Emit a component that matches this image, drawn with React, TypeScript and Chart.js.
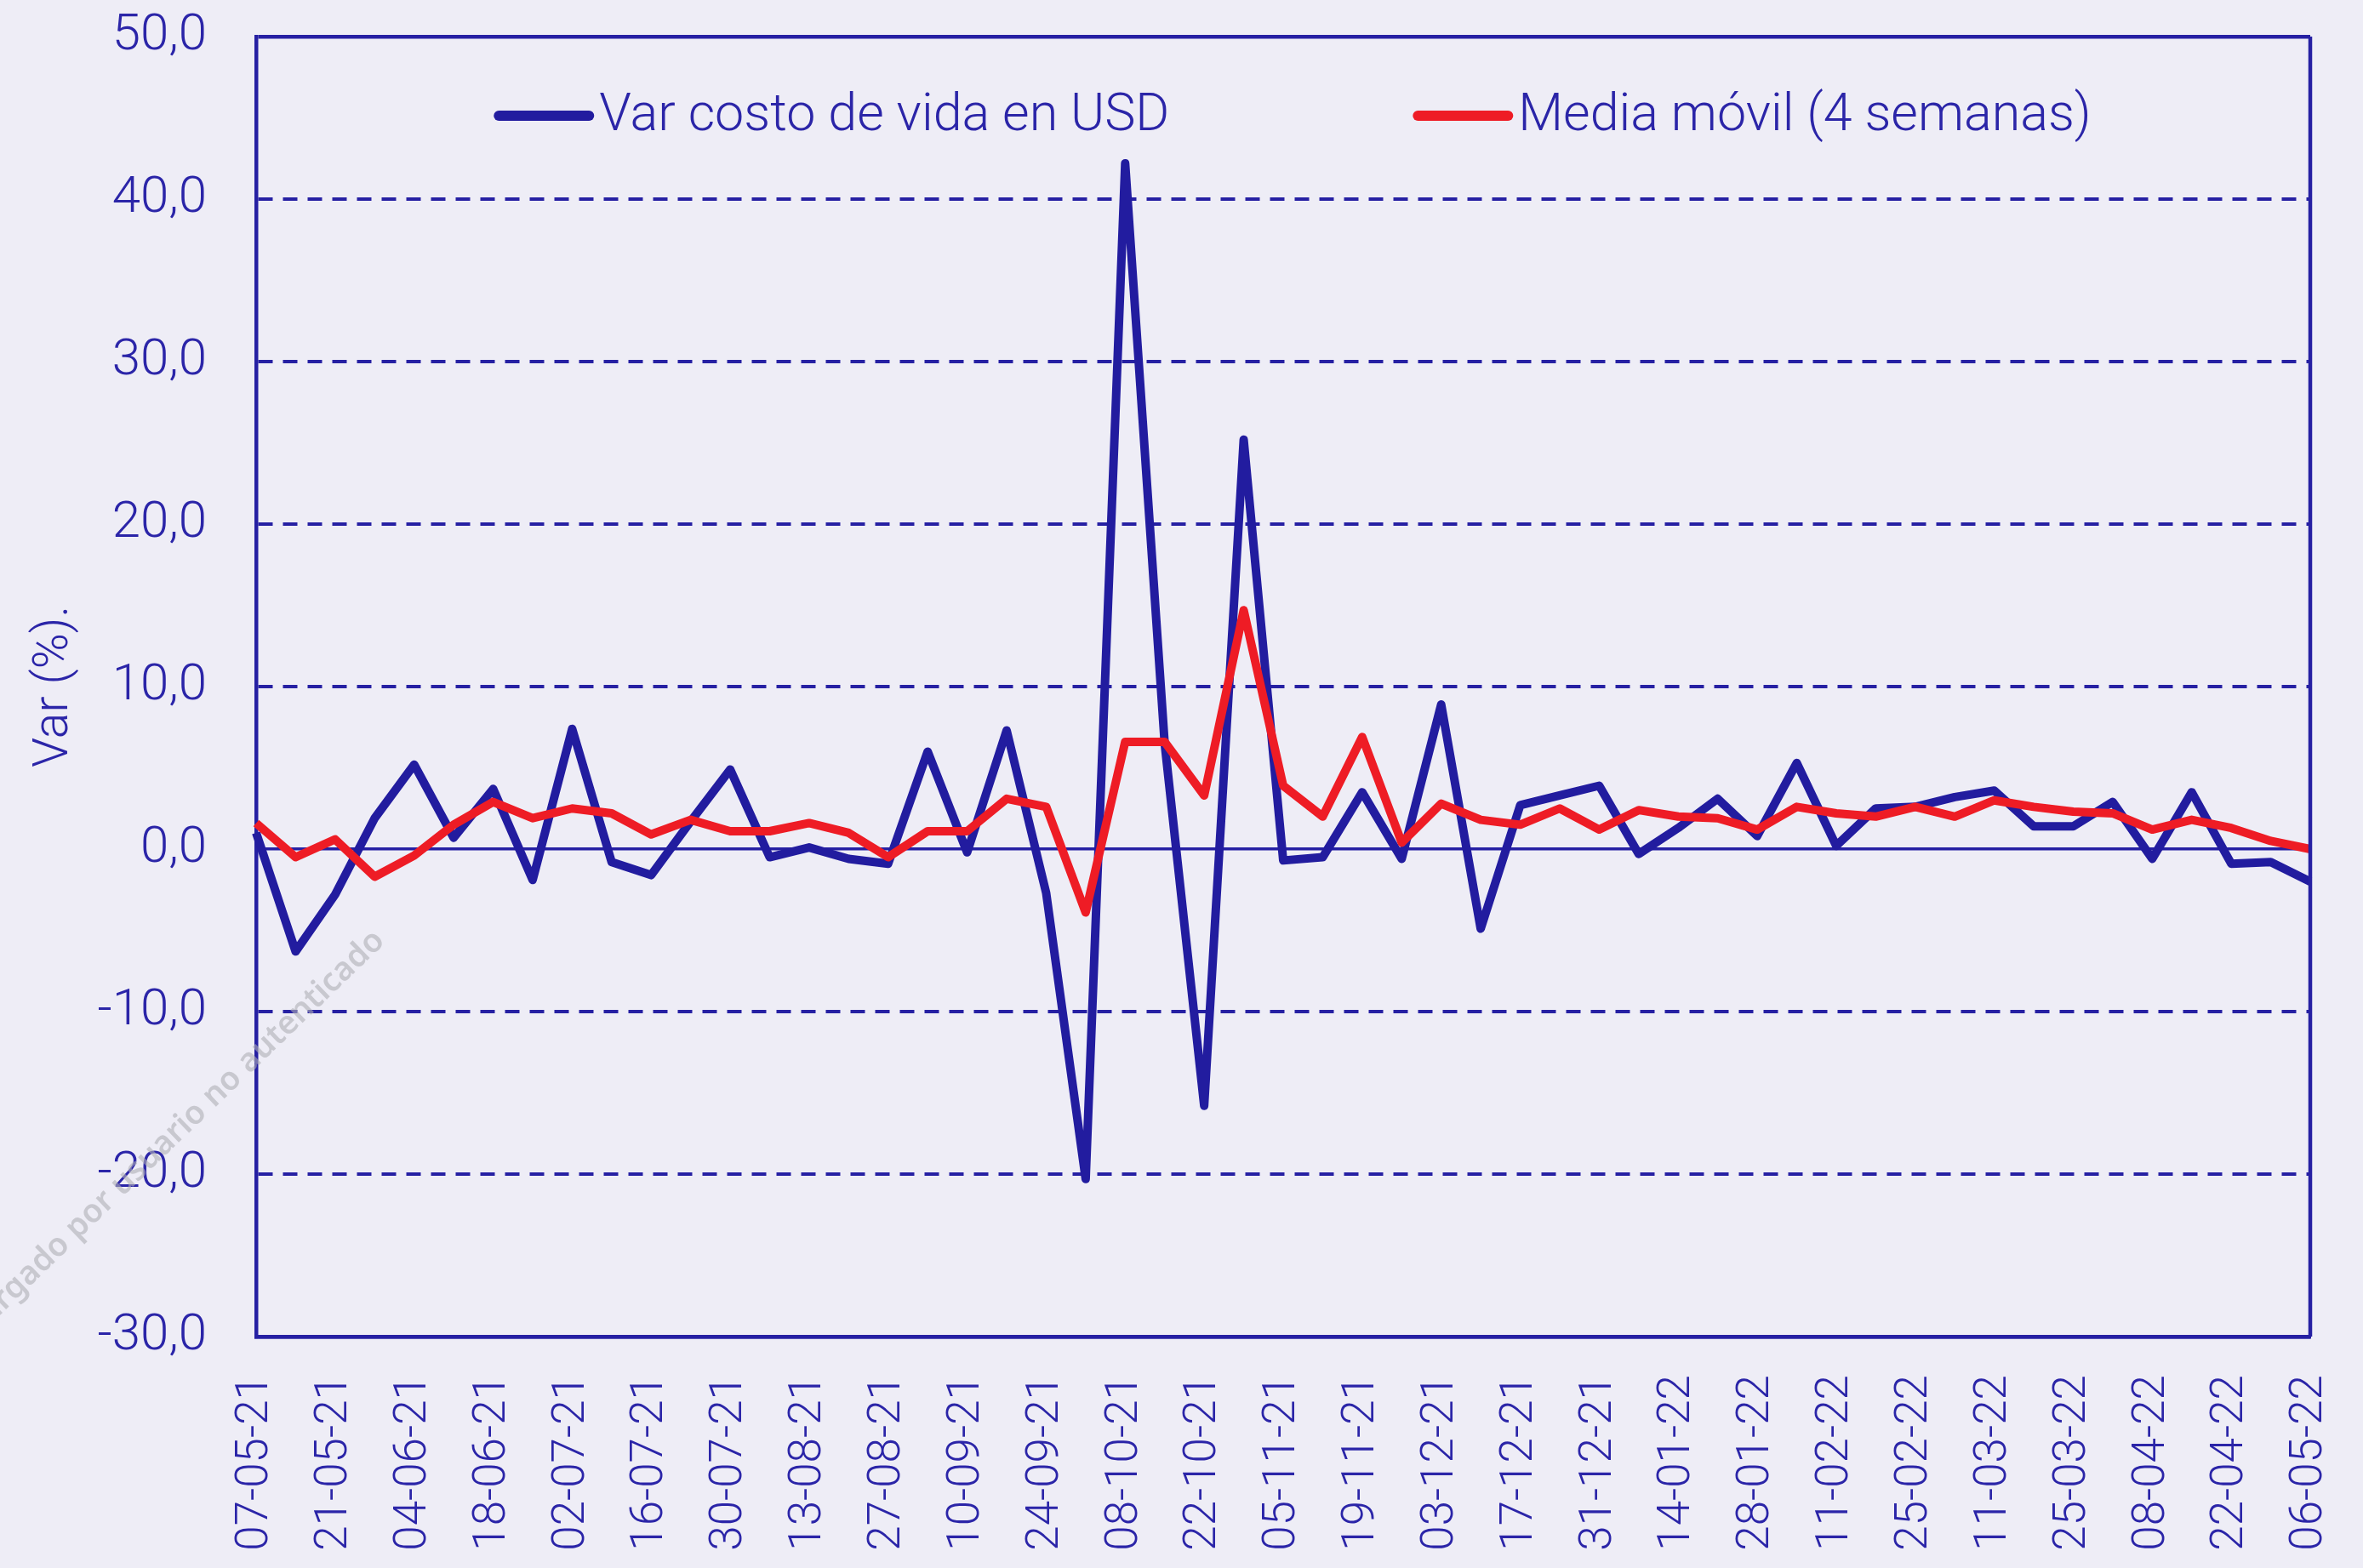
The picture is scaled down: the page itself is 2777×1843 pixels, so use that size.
import React, { useEffect, useRef } from 'react';
import { Chart, registerables } from 'chart.js';

Chart.register(...registerables);

// ---- data ----
const fechas: string[] = [
  '07-05-21', '14-05-21', '21-05-21', '28-05-21', '04-06-21', '11-06-21', '18-06-21', '25-06-21',
  '02-07-21', '09-07-21', '16-07-21', '23-07-21', '30-07-21', '06-08-21', '13-08-21', '20-08-21',
  '27-08-21', '03-09-21', '10-09-21', '17-09-21', '24-09-21', '01-10-21', '08-10-21', '15-10-21',
  '22-10-21', '29-10-21', '05-11-21', '12-11-21', '19-11-21', '26-11-21', '03-12-21', '10-12-21',
  '17-12-21', '24-12-21', '31-12-21', '07-01-22', '14-01-22', '21-01-22', '28-01-22', '04-02-22',
  '11-02-22', '18-02-22', '25-02-22', '04-03-22', '11-03-22', '18-03-22', '25-03-22', '01-04-22',
  '08-04-22', '15-04-22', '22-04-22', '29-04-22', '06-05-22',
];

const varCostoVidaUSD: number[] = [
  1.0, -6.3, -2.8, 1.9, 5.2, 0.7, 3.7, -1.9, 7.4, -0.8, -1.6, 1.7, 4.9, -0.5, 0.1, -0.6,
  -0.9, 6.0, -0.2, 7.3, -2.7, -20.3, 42.2, 6.5, -15.8, 25.2, -0.7, -0.5, 3.5, -0.6, 8.9, -4.9,
  2.7, 3.3, 3.9, -0.3, 1.3, 3.1, 0.8, 5.3, 0.2, 2.5, 2.6, 3.2, 3.6, 1.4, 1.4, 2.9,
  -0.6, 3.5, -0.9, -0.8, -2.0,
];

const mediaMovil4: number[] = [
  1.6, -0.5, 0.6, -1.7, -0.4, 1.5, 2.9, 1.9, 2.5, 2.2, 0.9, 1.8, 1.1, 1.1, 1.6, 1.0,
  -0.5, 1.1, 1.1, 3.1, 2.6, -3.9, 6.6, 6.6, 3.3, 14.7, 3.9, 2.0, 6.9, 0.4, 2.8, 1.8,
  1.5, 2.5, 1.2, 2.4, 2.0, 1.9, 1.2, 2.6, 2.2, 2.0, 2.6, 2.0, 3.0, 2.6, 2.3, 2.2,
  1.2, 1.8, 1.3, 0.5, 0.0,
];

const serieNombres: string[] = ['Var costo de vida en USD', 'Media móvil (4 semanas)'];
const yMin = -30;
const yMax = 50;
const yStep = 10;

// ---- styles ----
const BG = '#EEEDF6';
const AXIS = '#2620A3';
const TEXT = '#2B25A8';
const BLUE = '#221C9F';
const RED = '#EE1C25';
const FONT = "Roboto, 'Liberation Sans', sans-serif";

const bgPlugin = {
  id: 'bgFill',
  beforeDraw(chart: any) {
    const { ctx, width, height } = chart;
    ctx.save();
    ctx.fillStyle = BG;
    ctx.fillRect(0, 0, width, height);
    ctx.restore();
  },
};

const framePlugin = {
  id: 'frame',
  afterDraw(chart: any) {
    const { ctx, chartArea } = chart;
    ctx.save();
    ctx.strokeStyle = AXIS;
    ctx.lineWidth = 4.5;
    ctx.beginPath();
    ctx.moveTo(chartArea.right, chartArea.top);
    ctx.lineTo(chartArea.right, chartArea.bottom);
    ctx.stroke();
    ctx.restore();
  },
};

const legendPlugin = {
  id: 'insideLegend',
  afterDraw(chart: any) {
    const { ctx, chartArea } = chart;
    const ds = chart.data.datasets;
    const sampleW = 118;
    const sampleGap = 6;
    const itemGap = 286;
    ctx.save();
    ctx.font = `300 61px ${FONT}`;
    const widths = ds.map((d: any) => sampleW + sampleGap + ctx.measureText(d.label).width);
    const total = widths.reduce((a: number, b: number) => a + b, 0) + itemGap * (ds.length - 1);
    const cx = (chartArea.left + chartArea.right) / 2 + 11;
    const y = chartArea.top + 93;
    let x = cx - total / 2;
    ds.forEach((d: any, i: number) => {
      ctx.strokeStyle = d.borderColor;
      ctx.lineWidth = 12;
      ctx.lineCap = 'round';
      ctx.beginPath();
      ctx.moveTo(x + 6, y);
      ctx.lineTo(x + sampleW - 6, y);
      ctx.stroke();
      ctx.fillStyle = TEXT;
      ctx.textAlign = 'left';
      ctx.textBaseline = 'middle';
      ctx.fillText(d.label, x + sampleW + sampleGap, y + 2);
      x += widths[i] + itemGap;
    });
    ctx.restore();
  },
};

const watermarkPlugin = {
  id: 'watermark',
  afterDraw(chart: any) {
    const { ctx } = chart;
    ctx.save();
    ctx.translate(446, 1100);
    ctx.rotate((-44 * Math.PI) / 180);
    ctx.font = "600 38px 'Noto Sans', sans-serif";
    ctx.fillStyle = 'rgba(175,175,182,0.6)';
    ctx.textAlign = 'right';
    ctx.textBaseline = 'middle';
    ctx.fillText('Descargado por usuario no autenticado', 0, 0);
    ctx.restore();
  },
};

export default function App() {
  const canvasRef = useRef<HTMLCanvasElement | null>(null);

  useEffect(() => {
    document.body.style.margin = '0';
    document.body.style.background = BG;
    const canvas = canvasRef.current;
    if (!canvas) return;

    const chart = new Chart(canvas, {
      type: 'line',
      data: {
        labels: fechas,
        datasets: [
          {
            label: serieNombres[0],
            data: varCostoVidaUSD,
            borderColor: BLUE,
            backgroundColor: BLUE,
            borderWidth: 10,
            pointRadius: 0,
            tension: 0,
            borderJoinStyle: 'round',
            order: 1,
          },
          {
            label: serieNombres[1],
            data: mediaMovil4,
            borderColor: RED,
            backgroundColor: RED,
            borderWidth: 10,
            pointRadius: 0,
            tension: 0,
            borderJoinStyle: 'round',
            order: 0,
          },
        ],
      },
      options: {
        responsive: false,
        animation: false,
        events: [],
        layout: { padding: { top: 43, right: 62, left: 0, bottom: 0 } },
        plugins: {
          legend: { display: false },
          tooltip: { enabled: false },
        },
        scales: {
          x: {
            type: 'category',
            offset: false,
            grid: { display: false, drawTicks: false },
            border: { display: true, color: AXIS, width: 4.5 },
            ticks: {
              autoSkip: false,
              maxRotation: 90,
              minRotation: 90,
              padding: 45,
              color: TEXT,
              font: { family: FONT, size: 53, weight: '300' },
              callback: (_v: any, i: number) => (i % 2 === 0 ? fechas[i] : ''),
            },
            afterFit: (s: any) => {
              s.height = 272;
              s.paddingLeft = 0;
              s.paddingRight = 0;
            },
          },
          y: {
            min: yMin,
            max: yMax,
            ticks: {
              stepSize: yStep,
              padding: 58,
              color: TEXT,
              font: { family: FONT, size: 60, weight: '300' },
              callback: (v: any) => Number(v).toFixed(1).replace('.', ','),
            },
            grid: {
              color: AXIS,
              drawTicks: false,
              lineWidth: (c: any) => {
                const v = c.tick ? c.tick.value : null;
                if (v === 0) return 3.5;
                if (v === yMin || v === yMax) return 4.5;
                return 4;
              },
            },
            border: {
              display: true,
              color: AXIS,
              width: 4.5,
              dash: (c: any) => {
                const v = c.tick ? c.tick.value : null;
                if (v === null || v === 0 || v === yMin || v === yMax) return [];
                return [17, 12];
              },
            },
            title: {
              display: true,
              text: 'Var (%).',
              color: TEXT,
              font: { family: FONT, size: 57, weight: '300' },
              padding: { top: 31, bottom: 0 },
            },
            afterFit: (s: any) => {
              s.width = 301;
              s.paddingTop = 0;
              s.paddingBottom = 0;
            },
          },
        },
      } as any,
      plugins: [bgPlugin, framePlugin, legendPlugin, watermarkPlugin],
    });

    return () => {
      chart.destroy();
    };
  }, []);

  return (
    <div style={{ width: 2777, height: 1843, background: BG }}>
      <canvas ref={canvasRef} width={2777} height={1843} style={{ display: 'block' }} />
    </div>
  );
}
